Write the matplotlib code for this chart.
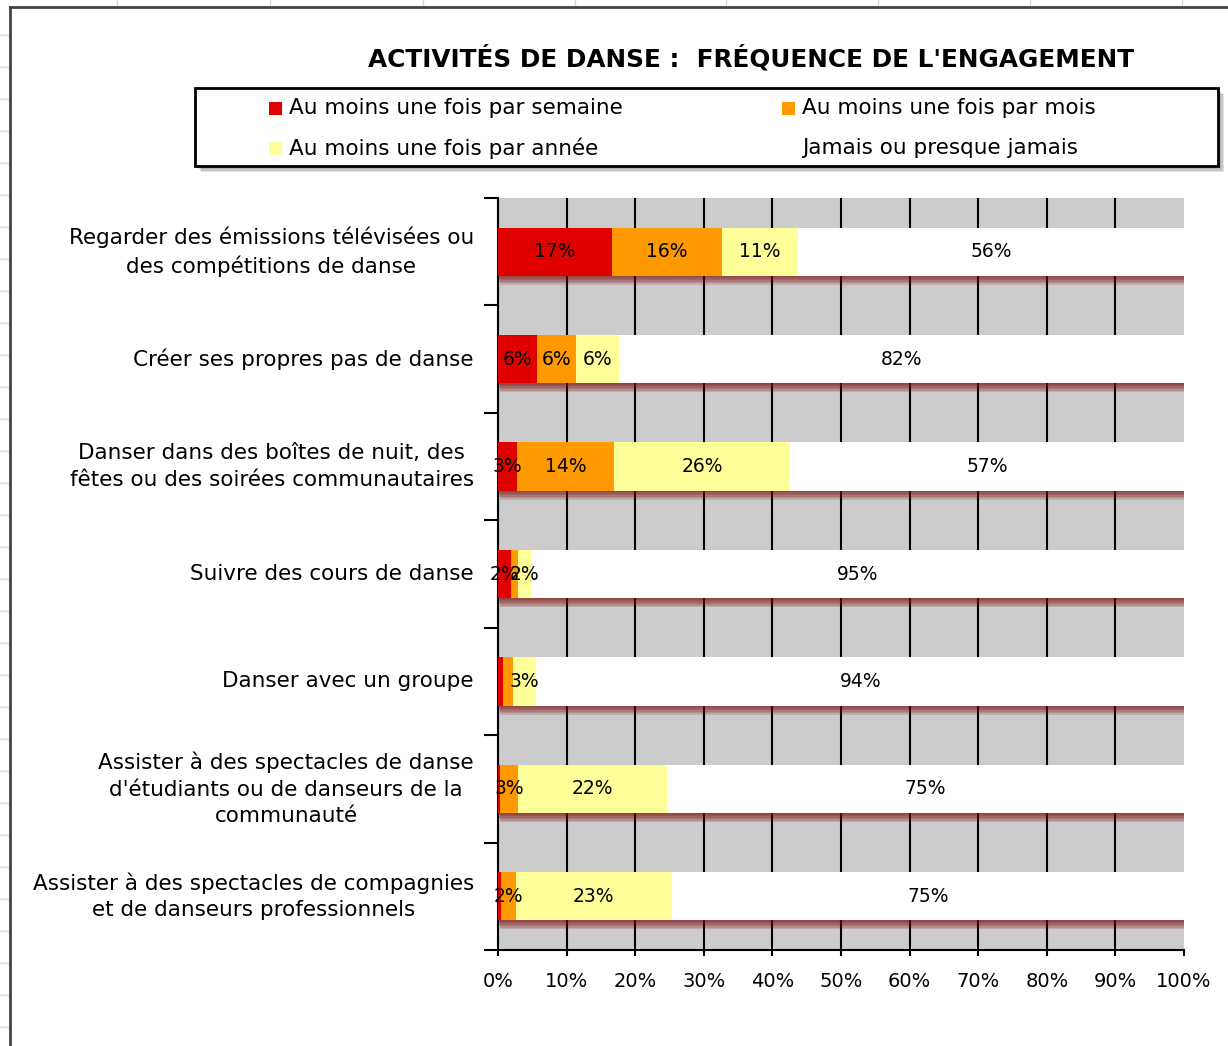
import matplotlib
matplotlib.use('Agg')
import matplotlib.pyplot as plt
from matplotlib.patches import Rectangle
import numpy as np

# Données
categories = [
    "Regarder des émissions télévisées ou\ndes compétitions de danse",
    "Créer ses propres pas de danse",
    "Danser dans des boîtes de nuit, des\nfêtes ou des soirées communautaires",
    "Suivre des cours de danse",
    "Danser avec un groupe",
    "Assister à des spectacles de danse\nd'étudiants ou de danseurs de la\ncommunauté",
    "Assister à des spectacles de compagnies\net de danseurs professionnels",
]
series_names = [
    "Au moins une fois par semaine",
    "Au moins une fois par mois",
    "Au moins une fois par année",
    "Jamais ou presque jamais",
]
semaine = [16.6, 5.7, 2.8, 1.9, 0.8, 0.3, 0.4]
mois = [16.1, 5.7, 14.1, 1.0, 1.4, 2.6, 2.2]
annee = [11.0, 6.2, 25.7, 1.9, 3.4, 21.8, 22.7]
jamais = [56.3, 82.4, 57.4, 95.2, 94.4, 75.3, 74.7]
couleurs = ['#E00000', '#FF9900', '#FFFF99', '#FFFFFF']
x_ticks = [0, 10, 20, 30, 40, 50, 60, 70, 80, 90, 100]

W, H = 1228, 1046
fig = plt.figure(figsize=(W / 100, H / 100), dpi=100)
fig.patch.set_facecolor('white')

def fx(px):
    return px / W

def fy(py):
    return 1 - py / H

# Fond Excel : lignes de la grille de la feuille
for xv in [117, 270, 423, 575, 726, 878, 1030, 1182]:
    fig.add_artist(plt.Line2D([fx(xv), fx(xv)], [fy(0), fy(7)], color='#D8D8D8', lw=1))
for yv in range(35, H, 32):
    fig.add_artist(plt.Line2D([fx(0), fx(10)], [fy(yv), fy(yv)], color='#D8D8D8', lw=1))
# Bord de la zone du graphique
fig.add_artist(plt.Line2D([fx(10), fx(10)], [fy(7), 0], color='#444444', lw=2))
fig.add_artist(plt.Line2D([fx(10), 1], [fy(7), fy(7)], color='#444444', lw=2))

# Titre
fig.text(fx(751), fy(58), "ACTIVITÉS DE DANSE :  FRÉQUENCE DE L'ENGAGEMENT",
         ha='center', va='center', fontsize=17.8, fontweight='bold')

# Légende (cadre avec ombre)
for k in range(1, 5):
    fig.add_artist(Rectangle((fx(195 + k * 1.5), fy(166 + k * 1.5)), fx(1023), 78 / H,
                             transform=fig.transFigure, facecolor='#555555',
                             edgecolor='none', alpha=0.18))
fig.add_artist(Rectangle((fx(195), fy(166)), fx(1023), 78 / H, transform=fig.transFigure,
                         facecolor='white', edgecolor='black', lw=2))
leg_pos = [(269, 108), (782, 108), (269, 148), (782, 148)]
for (lx, ly), nom, c in zip(leg_pos, series_names, couleurs):
    fig.add_artist(Rectangle((fx(lx), fy(ly + 7)), 13 / W, 13 / H, transform=fig.transFigure,
                             facecolor=c, edgecolor='none'))
    fig.text(fx(lx + 20), fy(ly), nom, ha='left', va='center', fontsize=15.5)

# Zone de tracé
ax = fig.add_axes([fx(498), fy(950), fx(1184) - fx(498), (950 - 198) / H])
ax.set_facecolor('#CCCCCC')
y = np.arange(len(categories))
h = 0.45

for xv in x_ticks[1:-1]:
    ax.axvline(xv, color='black', lw=1.5, zorder=1)

donnees = [semaine, mois, annee, jamais]
total = np.sum(donnees, axis=0)

# ombre des barres
for k in range(1, 7):
    ax.barh(y + k * 0.014, total, left=k * 0.05, height=h, color='#7A0A0A',
            alpha=0.17, zorder=2, linewidth=0)

gauche = np.zeros(len(categories))
for vals, c, nom in zip(donnees, couleurs, series_names):
    ax.barh(y, vals, left=gauche, height=h, color=c, label=nom, zorder=3, linewidth=0)
    for yi, g, v in zip(y, gauche, vals):
        if v >= 1.5:
            ax.text(g + v / 2, yi, f"{v:.0f}%", ha='center', va='center',
                    fontsize=13.5, zorder=4)
    gauche = gauche + np.array(vals)

ax.set_xlim(0, 100)
ax.set_ylim(len(categories) - 0.5, -0.5)
ax.set_xticks(x_ticks)
ax.set_xticklabels([f"{t}%" for t in x_ticks], fontsize=14)
ax.set_yticks(np.arange(-0.5, len(categories), 1.0))
ax.set_yticklabels([])
ax.tick_params(axis='y', length=10, width=1.5, direction='out')
ax.tick_params(axis='x', length=4, width=1.5, direction='out', pad=12)
for s in ['top', 'right']:
    ax.spines[s].set_visible(False)
for s in ['left', 'bottom']:
    ax.spines[s].set_linewidth(1.5)

for yi, cat in zip(y, categories):
    ax.text(-3.5, yi, cat, ha='right', va='center', multialignment='center',
            fontsize=15.5, transform=ax.transData, linespacing=1.4)

fig.savefig('out.png', dpi=100, facecolor='white')
